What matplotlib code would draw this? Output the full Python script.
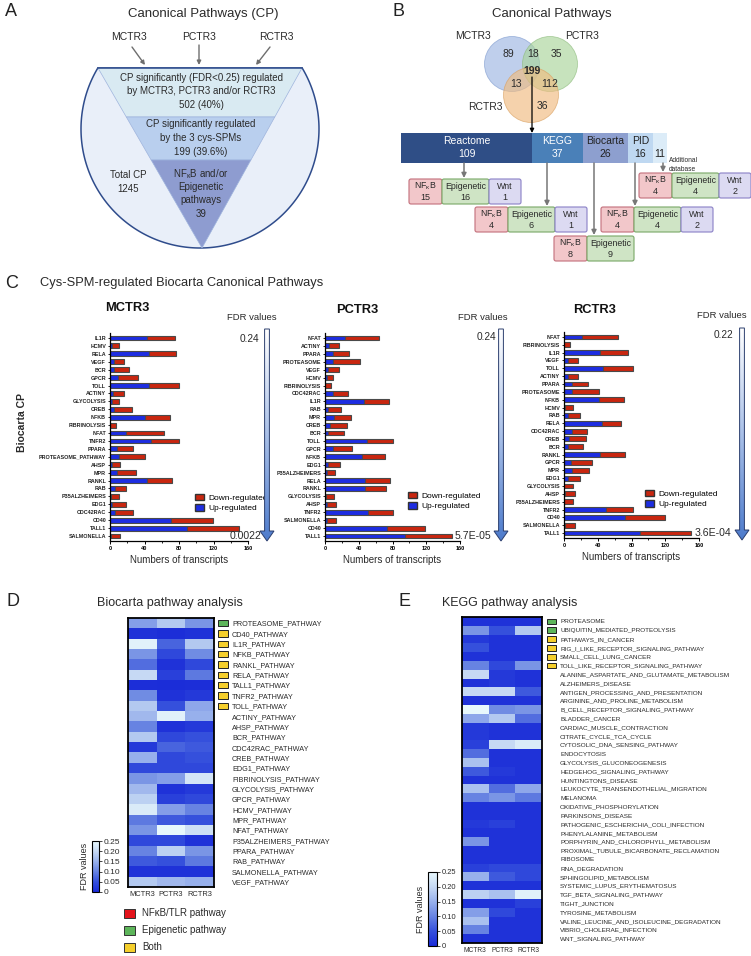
import numpy as np
import matplotlib
matplotlib.use('Agg')
import matplotlib.pyplot as plt
from matplotlib.patches import Polygon, Rectangle, FancyBboxPatch, Circle, Patch
from matplotlib.colors import LinearSegmentedColormap

plt.rcParams['font.family'] = ['Liberation Sans', 'DejaVu Sans']
plt.rcParams['mathtext.fontset'] = 'custom'
plt.rcParams['mathtext.rm'] = 'Liberation Sans'
plt.rcParams['mathtext.it'] = 'Liberation Sans:italic'
plt.rcParams['mathtext.bf'] = 'Liberation Sans:bold'

TXT = '#2a2a2a'
W, H = 751, 956

# ---------------- data ----------------
spm_names = ['MCTR3', 'PCTR3', 'RCTR3']

# panel A funnel
funnel_lines = [
    ['CP significantly (FDR<0.25) regulated', 'by MCTR3, PCTR3 and/or RCTR3', '502 (40%)'],
    ['CP significantly regulated', 'by the 3 cys-SPMs', '199 (39.6%)'],
    [r'NF$_{\mathrm{κ}}$B and/or', 'Epigenetic', 'pathways', '39'],
]
total_cp = ['Total CP', '1245']

# panel B
venn_counts = ['89', '18', '35', '199', '13', '112', '36']
db_names = ['Reactome', 'KEGG', 'Biocarta', 'PID', '']
db_counts = [109, 37, 26, 16, 11]
box_kinds = [r'NF$_{\mathrm{κ}}$B', 'Epigenetic', 'Wnt']
box_counts = {
    'Reactome': [15, 16, 1],
    'KEGG': [4, 6, 1],
    'Biocarta': [8, 9],
    'PID': [4, 4, 2],
    'Additional': [4, 4, 2],
}

# panel C (up-regulated, down-regulated transcripts)
m_names = ['IL1R', 'HCMV', 'RELA', 'VEGF', 'BCR', 'GPCR', 'TOLL', 'ACTINY', 'GLYCOLYSIS', 'CREB',
           'NFKB', 'FIBRINOLYSIS', 'NFAT', 'TNFR2', 'PPARA', 'PROTEASOME_PATHWAY', 'AHSP', 'MPR',
           'RANKL', 'RAB', 'P35ALZHEIMERS', 'EDG1', 'CDC42RAC', 'CD40', 'TALL1', 'SALMONELLA']
m_up = [43, 2, 45, 5, 5, 9, 45, 4, 2, 5, 41, 0, 19, 48, 8, 10, 2, 8, 43, 6, 1, 2, 6, 71, 89, 1]
m_down = [32, 8, 32, 11, 17, 23, 35, 12, 8, 20, 29, 7, 44, 32, 19, 31, 10, 22, 29, 13, 10, 17, 21, 48, 61, 11]

p_names = ['NFAT', 'ACTINY', 'PPARA', 'PROTEASOME', 'VEGF', 'HCMV', 'FIBRINOLYSIS', 'CDC42RAC',
           'IL1R', 'RAB', 'MPR', 'CREB', 'BCR', 'TOLL', 'GPCR', 'NFKB', 'EDG1', 'P35ALZHEIMERS',
           'RELA', 'RANKL', 'GLYCOLYSIS', 'AHSP', 'TNFR2', 'SALMONELLA', 'CD40', 'TALL1']
p_up = [24, 5, 9, 10, 4, 2, 0, 10, 46, 4, 11, 6, 3, 50, 9, 44, 3, 2, 47, 47, 1, 2, 51, 2, 74, 95]
p_down = [40, 12, 19, 32, 12, 8, 7, 17, 30, 15, 20, 20, 19, 31, 23, 27, 15, 10, 30, 25, 10, 11, 30, 11, 45, 55]

r_names = ['NFAT', 'FIBRINOLYSIS', 'IL1R', 'VEGF', 'TOLL', 'ACTINY', 'PPARA', 'PROTEASOME', 'NFKB',
           'HCMV', 'RAB', 'RELA', 'CDC42RAC', 'CREB', 'BCR', 'RANKL', 'GPCR', 'MPR', 'EDG1',
           'GLYCOLYSIS', 'AHSP', 'P35ALZHEIMERS', 'TNFR2', 'CD40', 'SALMONELLA', 'TALL1']
r_up = [21, 0, 43, 5, 46, 5, 9, 9, 41, 1, 5, 45, 9, 6, 5, 43, 8, 9, 5, 0, 1, 0, 50, 72, 1, 90]
r_down = [43, 7, 33, 12, 36, 11, 19, 32, 30, 10, 14, 23, 18, 20, 18, 29, 25, 21, 14, 11, 12, 11, 32, 48, 12, 61]

fdr_top = ['0.24', '0.24', '0.22']
fdr_bottom = ['0.0022', '5.7E-05', '3.6E-04']

# panel D (FDR per pathway: MCTR3, PCTR3, RCTR3)
bio_names = ['PROTEASOME_PATHWAY', 'CD40_PATHWAY', 'IL1R_PATHWAY', 'NFKB_PATHWAY', 'RANKL_PATHWAY',
             'RELA_PATHWAY', 'TALL1_PATHWAY', 'TNFR2_PATHWAY', 'TOLL_PATHWAY', 'ACTINY_PATHWAY',
             'AHSP_PATHWAY', 'BCR_PATHWAY', 'CDC42RAC_PATHWAY', 'CREB_PATHWAY', 'EDG1_PATHWAY',
             'FIBRINOLYSIS_PATHWAY', 'GLYCOLYSIS_PATHWAY', 'GPCR_PATHWAY', 'HCMV_PATHWAY', 'MPR_PATHWAY',
             'NFAT_PATHWAY', 'P35ALZHEIMERS_PATHWAY', 'PPARA_PATHWAY', 'RAB_PATHWAY',
             'SALMONELLA_PATHWAY', 'VEGF_PATHWAY']
bio_fdr = [[0.13, 0.18, 0.12], [0.01, 0.005, 0.01], [0.24, 0.07, 0.18], [0.12, 0.04, 0.11],
           [0.08, 0.01, 0.04], [0.20, 0.03, 0.09], [0.005, 0.003, 0.005], [0.11, 0.01, 0.02],
           [0.18, 0.05, 0.14], [0.16, 0.24, 0.15], [0.10, 0.01, 0.02], [0.18, 0.04, 0.05],
           [0.02, 0.07, 0.06], [0.15, 0.04, 0.05], [0.04, 0.04, 0.04], [0.12, 0.13, 0.22],
           [0.16, 0.01, 0.02], [0.19, 0.03, 0.04], [0.23, 0.13, 0.10], [0.09, 0.06, 0.05],
           [0.12, 0.25, 0.21], [0.04, 0.04, 0.01], [0.10, 0.19, 0.12], [0.06, 0.05, 0.09],
           [0.01, 0.01, 0.01], [0.18, 0.16, 0.15]]
bio_marks = ['epi'] + ['both'] * 8 + [None] * 17

# panel E
kegg_names = ['PROTEASOME', 'UBIQUITIN_MEDIATED_PROTEOLYSIS', 'PATHWAYS_IN_CANCER',
              'RIG_I_LIKE_RECEPTOR_SIGNALING_PATHWAY', 'SMALL_CELL_LUNG_CANCER',
              'TOLL_LIKE_RECEPTOR_SIGNALING_PATHWAY', 'ALANINE_ASPARTATE_AND_GLUTAMATE_METABOLISM',
              'ALZHEIMERS_DISEASE', 'ANTIGEN_PROCESSING_AND_PRESENTATION', 'ARGININE_AND_PROLINE_METABOLISM',
              'B_CELL_RECEPTOR_SIGNALING_PATHWAY', 'BLADDER_CANCER', 'CARDIAC_MUSCLE_CONTRACTION',
              'CITRATE_CYCLE_TCA_CYCLE', 'CYTOSOLIC_DNA_SENSING_PATHWAY', 'ENDOCYTOSIS',
              'GLYCOLYSIS_GLUCONEOGENESIS', 'HEDGEHOG_SIGNALING_PATHWAY', 'HUNTINGTONS_DISEASE',
              'LEUKOCYTE_TRANSENDOTHELIAL_MIGRATION', 'MELANOMA', 'OXIDATIVE_PHOSPHORYLATION',
              'PARKINSONS_DISEASE', 'PATHOGENIC_ESCHERICHIA_COLI_INFECTION', 'PHENYLALANINE_METABOLISM',
              'PORPHYRIN_AND_CHLOROPHYLL_METABOLISM', 'PROXIMAL_TUBULE_BICARBONATE_RECLAMATION',
              'RIBOSOME', 'RNA_DEGRADATION', 'SPHINGOLIPID_METABOLISM', 'SYSTEMIC_LUPUS_ERYTHEMATOSUS',
              'TGF_BETA_SIGNALING_PATHWAY', 'TIGHT_JUNCTION', 'TYROSINE_METABOLISM',
              'VALINE_LEUCINE_AND_ISOLEUCINE_DEGRADATION', 'VIBRIO_CHOLERAE_INFECTION',
              'WNT_SIGNALING_PATHWAY']
kegg_fdr = [[0.01, 0.01, 0.01], [0.12, 0.05, 0.18], [0.02, 0.01, 0.01], [0.05, 0.01, 0.01],
            [0.01, 0.01, 0.01], [0.10, 0.04, 0.12], [0.20, 0.02, 0.01], [0.01, 0.02, 0.01],
            [0.20, 0.20, 0.06], [0.01, 0.01, 0.01], [0.25, 0.11, 0.12], [0.14, 0.18, 0.08],
            [0.02, 0.01, 0.01], [0.02, 0.01, 0.01], [0.03, 0.20, 0.23], [0.08, 0.01, 0.01],
            [0.17, 0.01, 0.01], [0.06, 0.02, 0.01], [0.01, 0.01, 0.01], [0.17, 0.08, 0.14],
            [0.10, 0.12, 0.09], [0.01, 0.01, 0.01], [0.01, 0.01, 0.01], [0.02, 0.03, 0.01],
            [0.01, 0.01, 0.01], [0.12, 0.01, 0.01], [0.01, 0.01, 0.01], [0.01, 0.01, 0.01],
            [0.03, 0.04, 0.04], [0.15, 0.06, 0.04], [0.01, 0.01, 0.01], [0.19, 0.17, 0.24],
            [0.01, 0.01, 0.03], [0.13, 0.04, 0.01], [0.17, 0.01, 0.01], [0.10, 0.01, 0.01],
            [0.01, 0.01, 0.01]]
kegg_marks = ['epi', 'epi'] + ['both'] * 4 + [None] * 31

legend_d = [('nfkb', 'NFκB/TLR pathway'), ('epi', 'Epigenetic pathway'), ('both', 'Both')]
mark_colors = {'nfkb': '#e3131b', 'epi': '#5db55a', 'both': '#f5cf2c'}

UP_C, DOWN_C = '#1d2de2', '#c9260f'
fdr_cmap = LinearSegmentedColormap.from_list(
    'fdr', ['#1a2bd8', '#3550dc', '#6783e2', '#98b1ec', '#c6d9f4', '#e8f8fc'])
arrow_cmap = LinearSegmentedColormap.from_list('arr', ['#ffffff', '#a9c0e8', '#4d7bcc'])

# ---------------- figure ----------------
fig = plt.figure(figsize=(W / 100, H / 100), dpi=100)


def rect(l, t, r, b):
    return [l / W, 1 - b / H, (r - l) / W, (b - t) / H]


ov = fig.add_axes([0, 0, 1, 1], zorder=5)
ov.set_xlim(0, W)
ov.set_ylim(H, 0)
ov.axis('off')


def txt(x, y, s, fs, **kw):
    kw.setdefault('ha', 'center')
    kw.setdefault('va', 'center')
    kw.setdefault('color', TXT)
    ov.text(x, y, s, fontsize=fs, **kw)


def arrow(x0, y0, x1, y1, color='#777777', lw=1.1, ms=7):
    ov.annotate('', xy=(x1, y1), xytext=(x0, y0),
                arrowprops=dict(arrowstyle='-|>', color=color, lw=lw, mutation_scale=ms,
                                shrinkA=0, shrinkB=0))


# ---- panel A
txt(5, 11, 'A', 13, ha='left', color='#222')
txt(203, 14, 'Canonical Pathways (CP)', 9.5)
for name, x, (ax0, ay0, ax1, ay1) in zip(spm_names, [129, 199, 276],
                                         [(132, 47, 145, 65), (199, 45, 199, 65), (270, 47, 256, 65)]):
    txt(x, 37, name, 7.5)
    arrow(ax0, ay0, ax1, ay1, color='#6e6e6e', lw=1.0, ms=6)

t = np.radians(np.linspace(149.1, 390.9, 300))
outer = np.column_stack([200 + 119 * np.cos(t), 129 - 119 * np.sin(t)])
ov.add_patch(Polygon(outer, closed=True, facecolor='#e9eff9', edgecolor='#2f4c8c', lw=1.1))


def tri_x(y):
    return 98 + (y - 68) * 104 / 180, 302 - (y - 68) * 100 / 180


for (y0, y1), c in zip([(68, 117), (117, 160), (160, 248)], ['#d9eaf2', '#b9cfee', '#8e9cd0']):
    l0, r0 = tri_x(y0)
    l1, r1 = tri_x(y1)
    ov.add_patch(Polygon([(l0, y0), (r0, y0), (r1, y1), (l1, y1)], closed=True,
                         facecolor=c, edgecolor='#9fb4dd', lw=0.5))
ov.plot([98, 302], [68, 68], color='#2f4c8c', lw=1.1)

for lines, ys in zip(funnel_lines, [[78, 91, 105], [124, 138, 152], [174, 187, 200, 214]]):
    for s, y in zip(lines, ys):
        txt(201, y, s, 7)
txt(128, 175, total_cp[0], 7)
txt(128, 189, total_cp[1], 7)

# ---- panel B
txt(392, 11, 'B', 13, ha='left', color='#222')
txt(552, 14, 'Canonical Pathways', 9.5)
for (cx, cy), fc, ec in zip([(512, 64), (550, 64), (531, 95)],
                            ['#9db6e2', '#a9d49a', '#f0bb80'],
                            ['#7f9bcf', '#8dbb7c', '#d9a060']):
    ov.add_patch(Circle((cx, cy), 27.5, facecolor=fc, edgecolor=ec, lw=0.6, alpha=0.65))
txt(473, 36, 'MCTR3', 7.5)
txt(582, 36, 'PCTR3', 7.5)
txt(485, 107, 'RCTR3', 7.5)
for s, (x, y) in zip(venn_counts, [(508, 54), (533, 54), (556, 54), (532, 71),
                                   (516, 84), (550, 84), (542, 106)]):
    txt(x, y, s, 7.5, weight='bold' if s == '199' else 'normal')
arrow(532, 77, 532, 133, color='black', lw=0.9, ms=6)

db_edges = [401, 532, 583, 628, 653, 667]
db_colors = ['#2f4e86', '#4a80b8', '#8d9fcf', '#bfd8f1', '#dcecf8']
db_txt = ['white', 'white', '#222', '#222', '#222']
for i, (n, c) in enumerate(zip(db_names, db_counts)):
    x0, x1 = db_edges[i], db_edges[i + 1]
    ov.add_patch(Rectangle((x0, 133), x1 - x0, 30, facecolor=db_colors[i], edgecolor='none'))
    xc = (x0 + x1) / 2
    txt(xc, 141, n, 7.5, color=db_txt[i])
    txt(xc, 154, str(c), 7.5, color=db_txt[i])
txt(669, 160, 'Additional', 4.8, ha='left')
txt(669, 169, 'database', 4.8, ha='left')

for x, y1 in zip([464, 547, 594, 635, 663], [178, 206, 235, 206, 172]):
    arrow(x, 163, x, y1)

box_origin = {'Reactome': (409, 179), 'KEGG': (475, 207), 'Biocarta': (554, 236),
              'PID': (601, 207), 'Additional': (639, 173)}
box_w = [33, 47, 32]
box_fc = ['#f2c7ca', '#cfe4c5', '#dcdaf2']
box_ec = ['#c36f7b', '#79a867', '#8a80c6']
for key, counts in box_counts.items():
    x, y = box_origin[key]
    for k, cnt in enumerate(counts):
        ov.add_patch(FancyBboxPatch((x, y), box_w[k], 25, boxstyle='round,pad=0,rounding_size=2',
                                    facecolor=box_fc[k], edgecolor=box_ec[k], lw=0.8))
        txt(x + box_w[k] / 2, y + 7, box_kinds[k], 6.3)
        txt(x + box_w[k] / 2, y + 18, str(cnt), 6.5)
        x += box_w[k]

# ---- panel C
txt(5, 283, 'C', 13, ha='left', color='#222')
txt(40, 283, 'Cys-SPM-regulated Biocarta Canonical Pathways', 9.3, ha='left')
txt(22, 423, 'Biocarta CP', 7.5, weight='bold', rotation=90)

bar_sets = [(m_names, m_up, m_down), (p_names, p_up, p_down), (r_names, r_up, r_down)]
bar_boxes = [(110, 333, 248, 541), (325, 333, 460, 541), (564, 332, 699, 538)]
title_xy = [(127, 308), (357, 310), (595, 310)]
leg_xy = [(195, 494), (408, 492), (645, 490)]
arrow_x = [267, 501, 742]
arrow_y = [(329, 541), (329, 541), (328, 540)]
fdr_lab = [(252, 318), (483, 317), (722, 315)]
top_lab = [(249, 339), (486, 337), (723, 335)]
bot_lab = [(262, 536), (491, 536), (731, 533)]

for i, (names, up, down) in enumerate(bar_sets):
    ax = fig.add_axes(rect(*bar_boxes[i]))
    y = np.arange(len(names))
    ax.barh(y, up, height=0.62, color=UP_C, edgecolor='#4a4a4a', lw=0.8, label='Up-regulated')
    ax.barh(y, down, left=up, height=0.62, color=DOWN_C, edgecolor='#4a4a4a', lw=0.8,
            label='Down-regulated')
    ax.set_ylim(len(names) - 0.37, -0.63)
    ax.set_xlim(0, 160)
    ax.set_xticks([0, 40, 80, 120, 160])
    ax.set_xticks([20, 60, 100, 140], minor=True)
    ax.set_yticks(y)
    ax.set_yticklabels(names, fontsize=3.9, weight='bold', color='#222')
    ax.tick_params(axis='x', labelsize=4, length=2, width=0.7, pad=1.5)
    ax.tick_params(axis='x', which='minor', length=1.2, width=0.6)
    ax.tick_params(axis='y', length=1.8, width=0.6, pad=1)
    for lab in ax.get_xticklabels():
        lab.set_fontweight('bold')
    for s in ['top', 'right']:
        ax.spines[s].set_visible(False)
    for s in ['left', 'bottom']:
        ax.spines[s].set_linewidth(0.9)
    ax.set_xlabel('Numbers of transcripts', fontsize=7, labelpad=3, color=TXT)
    ax.legend([Patch(facecolor=DOWN_C, edgecolor='#333'), Patch(facecolor=UP_C, edgecolor='#333')],
              ['Down-regulated', 'Up-regulated'], loc='upper left',
              bbox_to_anchor=(leg_xy[i][0] / W, 1 - leg_xy[i][1] / H), bbox_transform=fig.transFigure,
              frameon=False, fontsize=6, handlelength=1.1, handleheight=0.75, handletextpad=0.5,
              labelspacing=0.3, borderpad=0, borderaxespad=0)
    txt(title_xy[i][0], title_xy[i][1], spm_names[i], 9.3, weight='bold', color='#111')

    # gradient FDR arrow
    xc = arrow_x[i]
    top, tip = arrow_y[i]
    sw, hw, hl = 2.4, 7, 10
    pts = [(xc - sw, top), (xc + sw, top), (xc + sw, tip - hl), (xc + hw, tip - hl), (xc, tip),
           (xc - hw, tip - hl), (xc - sw, tip - hl)]
    poly = Polygon(pts, closed=True, facecolor='none', edgecolor='#2c3f6e', lw=0.7, zorder=7)
    ov.add_patch(poly)
    grad = np.linspace(0, 1, 256).reshape(-1, 1)
    im = ov.imshow(grad, cmap=arrow_cmap, extent=(xc - hw, xc + hw, tip, top), aspect='auto', zorder=6)
    im.set_clip_path(poly)
    txt(fdr_lab[i][0], fdr_lab[i][1], 'FDR values', 6.8)
    txt(top_lab[i][0], top_lab[i][1], fdr_top[i], 7.3)
    txt(bot_lab[i][0], bot_lab[i][1], fdr_bottom[i], 7.6, ha='right')


# ---- panels D and E
def heatmap(box, names, vals, marks, lab_fs, col_fs, sq_off, sq_w, sq_h):
    ax = fig.add_axes(rect(*box))
    im = ax.imshow(np.array(vals), cmap=fdr_cmap, vmin=0, vmax=0.25, aspect='auto',
                   interpolation='nearest')
    ax.set_xticks(range(3))
    ax.set_xticklabels(spm_names, fontsize=col_fs, color=TXT)
    ax.tick_params(axis='x', length=0, pad=3)
    ax.set_yticks(range(len(names)))
    ax.set_yticklabels(names, fontsize=lab_fs, color=TXT)
    ax.tick_params(axis='y', length=0, pad=13, labelright=True, labelleft=False)
    for sp in ax.spines.values():
        sp.set_linewidth(1.3)
    for j, m in enumerate(marks):
        if m:
            ax.add_patch(Rectangle((2.5 + sq_off, j - sq_h / 2), sq_w, sq_h, facecolor=mark_colors[m],
                                   edgecolor='#222', lw=0.7, clip_on=False))
    return im


def cbar(im, box, fs):
    cax = fig.add_axes(rect(*box))
    cb = fig.colorbar(im, cax=cax, ticks=[0, 0.05, 0.10, 0.15, 0.20, 0.25])
    cb.set_ticklabels(['0', '0.05', '0.10', '0.15', '0.20', '0.25'])
    cb.ax.tick_params(labelsize=fs, length=2, width=0.6, pad=1.5, colors=TXT)
    cb.outline.set_linewidth(0.8)
    cb.set_label('FDR values', fontsize=6.5, color=TXT, labelpad=2)
    cb.ax.yaxis.set_label_position('left')


txt(7, 602, 'D', 13, ha='left', color='#222')
txt(97, 603, 'Biocarta pathway analysis', 9, ha='left')
im_d = heatmap((128, 618, 214, 887), bio_names, bio_fdr, bio_marks, 5.2, 5.4, 0.14, 0.35, 0.6)
cbar(im_d, (92, 841, 99, 892), 6)
for (key, label), y in zip(legend_d, [913, 930, 947]):
    ov.add_patch(Rectangle((124, y - 4.5), 11, 9, facecolor=mark_colors[key], edgecolor='#333', lw=0.7))
    txt(142, y, label, 7, ha='left')

txt(398, 602, 'E', 13, ha='left', color='#222')
txt(442, 603, 'KEGG pathway analysis', 9, ha='left')
im_e = heatmap((462, 617, 542, 943), kegg_names, kegg_fdr, kegg_marks, 4.6, 4.8, 0.19, 0.34, 0.65)
cbar(im_e, (428, 872, 437, 946), 5.4)

ov.set_xlim(0, W)
ov.set_ylim(H, 0)
fig.savefig('out.png', dpi=100)
